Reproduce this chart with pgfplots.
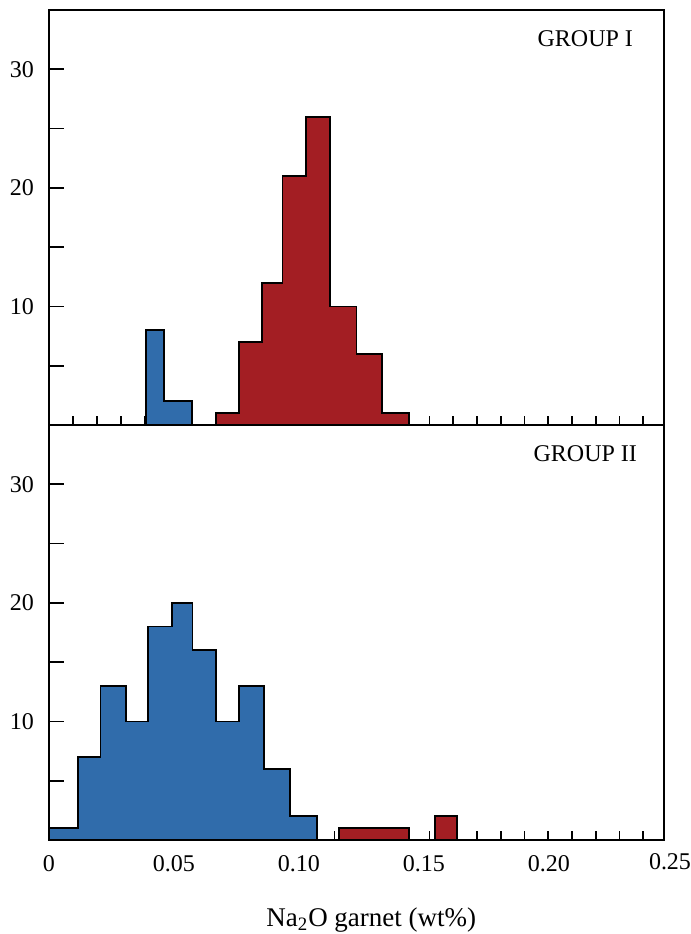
\documentclass[border=0pt]{standalone}
\usepackage{fontspec}
\setmainfont{Liberation Serif}
\usepackage{pgfplots}
\pgfplotsset{compat=1.18}

\definecolor{gblue}{HTML}{306CAB}
\definecolor{gred}{HTML}{A31E23}

\pgfplotsset{
    panel/.style={
        width=307.5pt, height=207.5pt, scale only axis,
        xmin=0, xmax=0.246, ymin=0, ymax=35,
        axis line style={line width=0.8pt},
        tick align=inside, tick pos=left,
        ytick={5,10,...,30},
        yticklabels={,10,,20,,30},
        major tick length=7.5pt,
        minor tick length=4.5pt,
        xtick={0,0.05,0.1,0.15,0.2},
        major x tick style={draw=none},
        minor xtick={0.0097,0.0192,...,0.2370},
        tick style={line width=0.8pt, black},
        yticklabel style={xshift=-4pt},
        xticklabel style={yshift=-4pt},
        /pgf/number format/assume math mode=true,
        font=\fontsize{12}{14}\selectfont,
        clip=false,
    },
    bar/.style={const plot, draw=black, line width=0.9pt, fill=#1},
}

\begin{document}
\begin{tikzpicture}
\useasboundingbox (-24.5pt,-47pt) rectangle (321pt,420pt);

% lower panel: group II
\begin{axis}[panel, name=bot, at={(0,0)}, anchor=south west,
        xticklabels={0,0.05,0.10,0.15,0.20},
        xlabel={Na\textsubscript{2}O garnet (wt\%)},
        xlabel style={at={(axis description cs:0.524,0)}, anchor=center,
            yshift=-40pt, font=\fontsize{13.5}{16}\selectfont},
    ]
    \addplot[bar=gblue] coordinates {
        (0,1) (0.0116,7) (0.0206,13) (0.0307,10) (0.0395,18) (0.0492,20)
        (0.0574,16) (0.0669,10) (0.0761,13) (0.0860,6) (0.0964,2) (0.1072,2)
    } \closedcycle;
    \addplot[bar=gred] coordinates {(0.1160,1) (0.1440,1)} \closedcycle;
    \addplot[bar=gred] coordinates {(0.1543,2) (0.1631,2)} \closedcycle;
    \node[anchor=north, yshift=-3.2pt] at (axis cs:0.2484,0) {0.25};
    \node at (rel axis cs:0.872,0.93) {GROUP II};
\end{axis}

% upper panel: group I
\begin{axis}[panel, name=top, at={(0,207.5pt)}, anchor=south west,
        xticklabels={},
    ]
    \addplot[bar=gblue] coordinates {(0.0388,8) (0.0460,2) (0.0572,2)} \closedcycle;
    \addplot[bar=gred] coordinates {
        (0.0668,1) (0.0759,7) (0.0852,12) (0.0934,21) (0.1028,26)
        (0.1124,10) (0.1230,6) (0.1331,1) (0.1440,1)
    } \closedcycle;
    \draw[line width=1.4pt] (rel axis cs:0,0) -- (rel axis cs:1,0);
    \node at (rel axis cs:0.872,0.93) {GROUP I};
\end{axis}
\end{tikzpicture}
\end{document}
